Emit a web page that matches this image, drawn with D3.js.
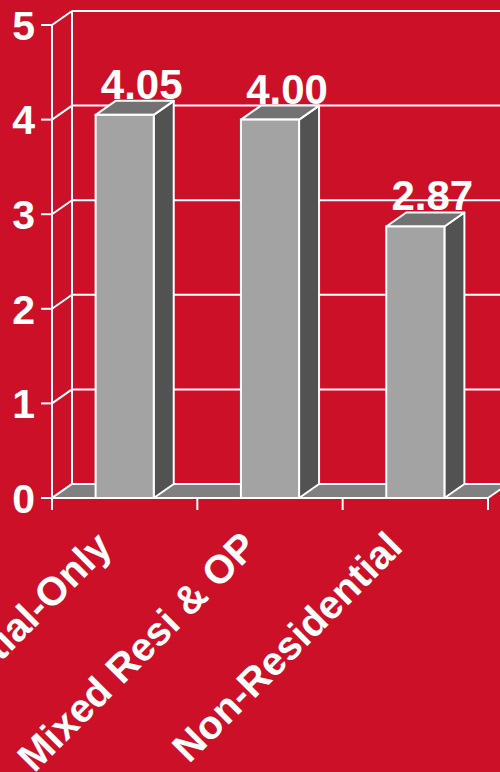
<!DOCTYPE html>
<html>
<head>
<meta charset="utf-8">
<script src="https://cdn.jsdelivr.net/npm/d3@7"></script>
<style>
  html, body { margin: 0; padding: 0; background: #cc1027; overflow: hidden; }
  svg { display: block; }
  text { font-family: "Liberation Sans", Arial, Helvetica, sans-serif; font-weight: bold; fill: #fff; }
</style>
</head>
<body>
<svg id="chart" width="500" height="772"></svg>
<script>
// ---- data ----
const categories = ["Residential-Only", "Mixed Resi & OP", "Non-Residential"];
const values = [4.05, 4.00, 2.87];
const valueLabels = ["4.05", "4.00", "2.87"];
const yTicks = [0, 1, 2, 3, 4, 5];

// ---- layout ----
const W = 500, H = 772;
const frontLeft = 52, frontRight = 488;
const yBottom = 498, yTop = 25;
const dx = 20, dy = -14;
const red = "#cc1027";

const svg = d3.select("#chart");
svg.append("rect").attr("width", W).attr("height", H).attr("fill", red);

const x = d3.scaleBand().domain(categories).range([frontLeft, frontRight]).padding(0);
const y = d3.scaleLinear().domain([0, 5]).range([yBottom, yTop]);
const barW = x.bandwidth() * 0.4;
const cx = c => x(c) + x.bandwidth() / 2;

const g = svg.append("g");
const lw = 2;

// back wall gridlines
g.selectAll("line.grid").data(yTicks).join("line")
  .attr("x1", frontLeft + dx).attr("x2", frontRight + dx + 20)
  .attr("y1", d => y(d) + dy).attr("y2", d => y(d) + dy)
  .attr("stroke", "#fff").attr("stroke-width", lw);

// left wall: diagonals
g.selectAll("line.diag").data(yTicks).join("line")
  .attr("x1", frontLeft).attr("x2", frontLeft + dx)
  .attr("y1", d => y(d)).attr("y2", d => y(d) + dy)
  .attr("stroke", "#fff").attr("stroke-width", lw);

// left wall verticals
g.append("line").attr("x1", frontLeft).attr("x2", frontLeft)
  .attr("y1", y(0)).attr("y2", y(5)).attr("stroke", "#fff").attr("stroke-width", lw);
g.append("line").attr("x1", frontLeft + dx).attr("x2", frontLeft + dx)
  .attr("y1", y(0) + dy).attr("y2", y(5) + dy).attr("stroke", "#fff").attr("stroke-width", lw);

// floor
const floorPts = [[frontLeft, y(0)], [frontRight, y(0)], [frontRight + dx, y(0) + dy], [frontLeft + dx, y(0) + dy]];
g.append("polygon").attr("points", floorPts.map(p => p.join(",")).join(" "))
  .attr("fill", "#808080").attr("stroke", "#fff").attr("stroke-width", lw).attr("stroke-linejoin", "round");

// bars
const bars = g.selectAll("g.bar").data(categories).join("g").attr("class", "bar");
bars.each(function (c, i) {
  const b = d3.select(this);
  const x0 = cx(c) - barW / 2, x1 = cx(c) + barW / 2;
  const yt = y(values[i]), yb = y(0);
  // side
  b.append("polygon")
    .attr("points", [[x1, yt], [x1 + dx, yt + dy], [x1 + dx, yb + dy], [x1, yb]].map(p => p.join(",")).join(" "))
    .attr("fill", "#525252").attr("stroke", "#fff").attr("stroke-width", lw).attr("stroke-linejoin", "round");
  // top
  b.append("polygon")
    .attr("points", [[x0, yt], [x1, yt], [x1 + dx, yt + dy], [x0 + dx, yt + dy]].map(p => p.join(",")).join(" "))
    .attr("fill", "#727272").attr("stroke", "#fff").attr("stroke-width", lw).attr("stroke-linejoin", "round");
  // front
  b.append("rect").attr("x", x0).attr("y", yt).attr("width", barW).attr("height", yb - yt)
    .attr("fill", "#a3a3a3").attr("stroke", "#fff").attr("stroke-width", lw);
  // value label
  b.append("text").attr("x", cx(c) + 17).attr("y", yt + dy - 2)
    .attr("text-anchor", "middle").attr("font-size", 42).text(valueLabels[i]);
});

// front x axis line and ticks
g.append("line").attr("x1", frontLeft).attr("x2", frontRight)
  .attr("y1", y(0)).attr("y2", y(0)).attr("stroke", "#fff").attr("stroke-width", lw);
const edges = categories.map(c => x(c)).concat([frontRight]);
g.selectAll("line.xt").data(edges).join("line")
  .attr("x1", d => d).attr("x2", d => d).attr("y1", y(0)).attr("y2", y(0) + 12)
  .attr("stroke", "#fff").attr("stroke-width", lw);

// y ticks and labels
g.selectAll("line.yt").data(yTicks).join("line")
  .attr("x1", frontLeft - 11).attr("x2", frontLeft).attr("y1", d => y(d)).attr("y2", d => y(d))
  .attr("stroke", "#fff").attr("stroke-width", lw);
g.selectAll("text.yl").data(yTicks).join("text")
  .attr("x", 35).attr("y", d => y(d)).attr("dy", "0.36em")
  .attr("text-anchor", "end").attr("font-size", 41).text(d => d);

// x labels rotated
g.selectAll("text.xl").data(categories).join("text")
  .attr("transform", c => `translate(${cx(c) - 11},549) rotate(-45)`)
  .attr("text-anchor", "end").attr("font-size", 40).text(c => c);
</script>
</body>
</html>
